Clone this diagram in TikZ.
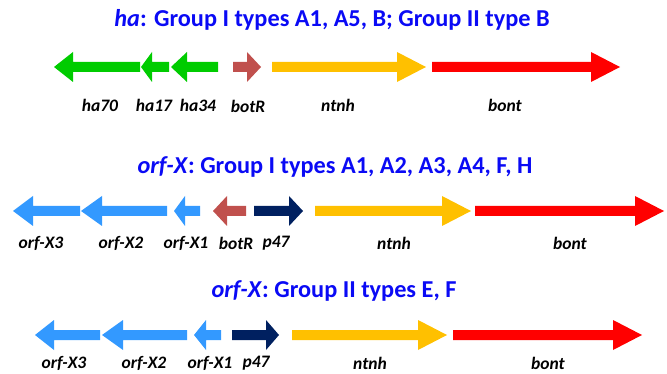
\documentclass[tikz,border=0pt]{standalone}
\usepackage{fontspec}
\setmainfont{Carlito}
\definecolor{hagreen}{RGB}{0,204,0}
\definecolor{botrred}{RGB}{192,80,77}
\definecolor{ntnhgold}{RGB}{255,192,0}
\definecolor{bontred}{RGB}{255,0,0}
\definecolor{orfblue}{RGB}{51,153,255}
\definecolor{pnavy}{RGB}{0,32,96}
\definecolor{titleblue}{RGB}{10,10,245}
% block arrow: tail x, tip x, centre y, head length, colour
\newcommand{\genearrow}[5]{%
  \pgfmathsetmacro\hbx{#2-sign(#2-#1)*#4}%
  \fill[#5] (#1,#3-5) -- (\hbx,#3-5) -- (\hbx,#3-15) -- (#2,#3)
    -- (\hbx,#3+15) -- (\hbx,#3+5) -- (#1,#3+5) -- cycle;}
\tikzset{
  title/.style={font=\bfseries\fontsize{24.3}{27}\selectfont, text=titleblue, inner sep=0pt},
  genelabel/.style={font=\bfseries\itshape\fontsize{17.5}{20}\selectfont, inner sep=0pt}
}
\begin{document}
\begin{tikzpicture}[x=1pt,y=-1pt]
\useasboundingbox (0,0) rectangle (667,374);
% ---- ha cluster ----
\node[title] (t1) at (332,20) {\textit{ha}: Group I types A1, A5, B; Group II type B};
\genearrow{140}{54}{67}{19}{hagreen}
\genearrow{169}{141}{67}{11}{hagreen}
\genearrow{218}{171}{67}{16}{hagreen}
\genearrow{233}{261}{67}{14}{botrred}
\genearrow{272}{426}{67}{29}{ntnhgold}
\genearrow{432}{620}{67}{29}{bontred}
\node[genelabel] (l1a) at (100,105) {ha70};
\node[genelabel] (l1b) at (154,105) {ha17};
\node[genelabel] (l1c) at (198,105) {ha34};
\node[genelabel] (l1d) at (248,106) {botR};
\node[genelabel] (l1e) at (338,105) {ntnh};
\node[genelabel] (l1f) at (505,105) {bont};
% ---- orf-X cluster, group I ----
\node[title] (t2) at (335,167) {\textit{orf-X}: Group I types A1, A2, A3, A4, F, H};
\genearrow{80}{13}{211}{20}{orfblue}
\genearrow{167}{81}{211}{21}{orfblue}
\genearrow{200}{174}{211}{11}{orfblue}
\genearrow{246}{213}{211}{14}{botrred}
\genearrow{254}{303}{211}{14}{pnavy}
\genearrow{315}{471}{211}{29}{ntnhgold}
\genearrow{475}{664}{211}{29}{bontred}
\node[genelabel] (l2a) at (41,243) {orf-X3};
\node[genelabel] (l2b) at (121,243) {orf-X2};
\node[genelabel] (l2c) at (186,243) {orf-X1};
\node[genelabel] (l2d) at (236,243) {botR};
\node[genelabel] (l2e) at (276,243) {p47};
\node[genelabel] (l2f) at (394,243) {ntnh};
\node[genelabel] (l2g) at (570,243) {bont};
% ---- orf-X cluster, group II ----
\node[title] (t3) at (334,291) {\textit{orf-X}: Group II types E, F};
\genearrow{100}{35}{335}{19}{orfblue}
\genearrow{187}{102}{335}{21}{orfblue}
\genearrow{221}{194}{335}{12}{orfblue}
\genearrow{232}{279}{335}{13}{pnavy}
\genearrow{292}{447}{335}{29}{ntnhgold}
\genearrow{453}{642}{335}{29}{bontred}
\node[genelabel] (l3a) at (64,363) {orf-X3};
\node[genelabel] (l3b) at (144,363) {orf-X2};
\node[genelabel] (l3c) at (210,363) {orf-X1};
\node[genelabel] (l3d) at (256,363) {p47};
\node[genelabel] (l3e) at (370,363) {ntnh};
\node[genelabel] (l3f) at (548,363) {bont};
\end{tikzpicture}
\end{document}
